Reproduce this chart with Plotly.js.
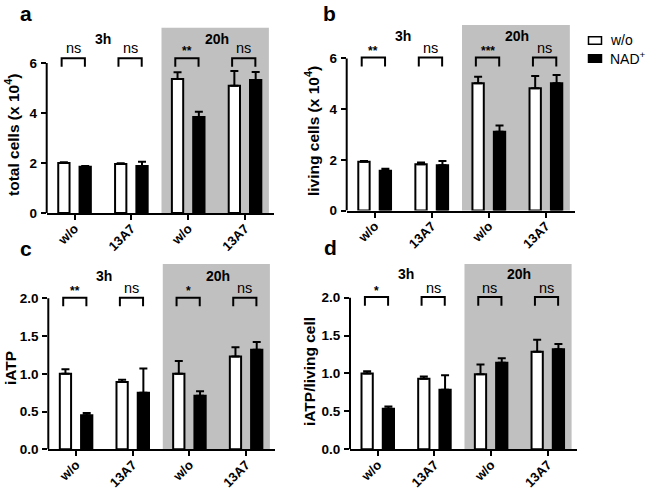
<!DOCTYPE html>
<html>
<head>
<meta charset="utf-8">
<script src="https://cdn.plot.ly/plotly-3.0.1.min.js"></script>
<style>html,body{margin:0;padding:0;background:#fff;}#chart{width:649px;height:489px;}</style>
</head>
<body>
<div id="chart"></div>
<script>
// ---------- data ----------
const categories = ['w/o', '13A7', 'w/o', '13A7'];
const timeGroups = ['3h', '20h'];
const seriesNames = ['w/o', 'NAD<sup>+</sup>'];

const totalWo = [2.00, 1.96, 5.36, 5.09];
const totalWoErr = [0.03, 0.03, 0.27, 0.59];
const totalNad = [1.85, 1.88, 3.84, 5.32];
const totalNadErr = [0.03, 0.17, 0.21, 0.32];
const totalSig = ['ns', 'ns', '**', 'ns'];

const livingWo = [1.92, 1.83, 5.02, 4.82];
const livingWoErr = [0.03, 0.06, 0.26, 0.49];
const livingNad = [1.57, 1.79, 3.11, 5.02];
const livingNadErr = [0.08, 0.16, 0.24, 0.33];
const livingSig = ['**', 'ns', '***', 'ns'];

const iatpWo = [1.00, 0.89, 1.00, 1.23];
const iatpWoErr = [0.06, 0.03, 0.17, 0.12];
const iatpNad = [0.45, 0.75, 0.71, 1.32];
const iatpNadErr = [0.03, 0.32, 0.06, 0.10];
const iatpSig = ['**', 'ns', '*', 'ns'];

const perCellWo = [1.00, 0.93, 0.99, 1.285];
const perCellWoErr = [0.03, 0.03, 0.13, 0.16];
const perCellNad = [0.534, 0.786, 1.14, 1.32];
const perCellNadErr = [0.03, 0.19, 0.06, 0.07];
const perCellSig = ['*', 'ns', 'ns', 'ns'];

const ticksCells = [0, 2, 4, 6];
const ticksAtp = [0, 0.5, 1.0, 1.5, 2.0];

// ---------- panel layout config ----------
const W = 649, H = 489;
const FONT = 'Liberation Sans, Arial, sans-serif';
const GRAY = '#c0c0c0';

const panels = [
  {letter: 'a', title: 'total cells (x 10<sup>4</sup>)', wo: totalWo, woErr: totalWoErr, nad: totalNad, nadErr: totalNadErr, sig: totalSig, ticks: ticksCells, fmt: 'd',
   px: [46.7, 274], py: [27.7, 213], yTop: 7.41, bracketTop: 6.19, bracketLeg: 0.34, sigY: 6.6, groupY: 6.95,
   titleX: 12, titleY: 135, letterX: 19, letterY: 13},
  {letter: 'b', title: 'living cells (x 10<sup>4</sup>)', wo: livingWo, woErr: livingWoErr, nad: livingNad, nadErr: livingNadErr, sig: livingSig, ticks: ticksCells, fmt: 'd',
   px: [346.7, 575], py: [25, 210.5], yTop: 7.32, bracketTop: 6.04, bracketLeg: 0.36, sigY: 6.42, groupY: 6.87,
   titleX: 312, titleY: 131, letterX: 322, letterY: 13},
  {letter: 'c', title: 'iATP', wo: iatpWo, woErr: iatpWoErr, nad: iatpNad, nadErr: iatpNadErr, sig: iatpSig, ticks: ticksAtp, fmt: '.1f',
   px: [48.3, 275], py: [264, 449.3], yTop: 2.454, bracketTop: 2.008, bracketLeg: 0.115, sigY: 2.13, groupY: 2.29,
   titleX: 10, titleY: 368, letterX: 19, letterY: 249},
  {letter: 'd', title: 'iATP/living cell', wo: perCellWo, woErr: perCellWoErr, nad: perCellNad, nadErr: perCellNadErr, sig: perCellSig, ticks: ticksAtp, fmt: '.1f',
   px: [350, 576.7], py: [264, 449.3], yTop: 2.444, bracketTop: 2.008, bracketLeg: 0.115, sigY: 2.13, groupY: 2.31,
   titleX: 309, titleY: 372, letterX: 323, letterY: 247}
];

const xRange = [-0.49, 3.51];
const grayRange = [1.53, 3.42];
const barOffset = 0.187;

const traces = [];
const shapes = [];
const annotations = [];
const layout = {
  width: W, height: H,
  margin: {l: 0, r: 0, t: 0, b: 0},
  paper_bgcolor: '#ffffff',
  plot_bgcolor: 'rgba(0,0,0,0)',
  barmode: 'group',
  bargap: 0.25,
  bargroupgap: 0.47,
  showlegend: false,
  font: {family: FONT, color: '#000'}
};

const xIdx = categories.map((c, i) => i);

panels.forEach((p, k) => {
  const n = k + 1;
  const xa = 'x' + (n === 1 ? '' : n);
  const ya = 'y' + (n === 1 ? '' : n);
  const xKey = 'xaxis' + (n === 1 ? '' : n);
  const yKey = 'yaxis' + (n === 1 ? '' : n);

  layout[xKey] = {
    domain: [p.px[0] / W, p.px[1] / W],
    anchor: ya,
    range: xRange,
    tickmode: 'array', tickvals: xIdx, ticktext: categories,
    tickangle: -45,
    tickfont: {family: FONT, size: 13, weight: 'bold', color: '#000'},
    showline: true, linecolor: '#000', linewidth: 2,
    ticks: 'outside', ticklen: 5, tickwidth: 2, tickcolor: '#000',
    ticklabelstandoff: -4,
    showgrid: false, zeroline: false, fixedrange: true
  };
  layout[yKey] = {
    domain: [1 - p.py[1] / H, 1 - p.py[0] / H],
    anchor: xa,
    range: [0, p.yTop],
    tickmode: 'array', tickvals: p.ticks, tickformat: p.fmt,
    tickfont: {family: FONT, size: 13.5, weight: 'bold', color: '#000'},
    showline: false,
    ticks: 'outside', ticklen: 5, tickwidth: 2, tickcolor: '#000',
    ticklabelstandoff: 1,
    showgrid: false, zeroline: false, fixedrange: true
  };

  // shaded 20h region
  shapes.push({type: 'rect', layer: 'below', xref: xa, yref: ya + ' domain',
    x0: grayRange[0], x1: grayRange[1], y0: 0, y1: 1, fillcolor: GRAY, line: {width: 0}});
  // y axis line from 0 to last tick
  shapes.push({type: 'line', xref: xa + ' domain', yref: ya, x0: 0, x1: 0,
    y0: 0, y1: p.ticks[p.ticks.length - 1], line: {color: '#000', width: 2}});

  traces.push({
    type: 'bar', name: seriesNames[0], x: xIdx, y: p.wo, xaxis: xa, yaxis: ya,
    marker: {color: '#ffffff', line: {color: '#000', width: 2}},
    error_y: {type: 'data', symmetric: false, array: p.woErr, arrayminus: p.woErr.map(() => 0),
      color: '#000', thickness: 2, width: 4},
    hoverinfo: 'skip'
  });
  traces.push({
    type: 'bar', name: seriesNames[1], x: xIdx, y: p.nad, xaxis: xa, yaxis: ya,
    marker: {color: '#000000', line: {color: '#000', width: 2}},
    error_y: {type: 'data', symmetric: false, array: p.nadErr, arrayminus: p.nadErr.map(() => 0),
      color: '#000', thickness: 2, width: 4},
    hoverinfo: 'skip'
  });

  // significance brackets + labels
  p.sig.forEach((s, i) => {
    const xl = i - barOffset - 0.04, xr = i + barOffset - 0.005;
    const yt = p.bracketTop, yb = p.bracketTop - p.bracketLeg;
    shapes.push({type: 'path', xref: xa, yref: ya,
      path: `M ${xl} ${yb} L ${xl} ${yt} L ${xr} ${yt} L ${xr} ${yb}`,
      line: {color: '#000', width: 2}});
    const star = s.indexOf('*') >= 0;
    annotations.push({xref: xa, yref: ya, x: (xl + xr) / 2, y: p.sigY, text: s, showarrow: false,
      yanchor: 'middle', yshift: star ? -3 : 0,
      font: {family: FONT, size: star ? 12 : 14.5, weight: star ? 'bold' : 'normal', color: '#000'}});
  });

  // time group labels
  timeGroups.forEach((g, j) => {
    annotations.push({xref: xa, yref: ya, x: 2 * j + 0.5, y: p.groupY, text: g, showarrow: false,
      yanchor: 'middle', font: {family: FONT, size: 14, weight: 'bold', color: '#000'}});
  });

  // y title
  annotations.push({xref: 'paper', yref: 'paper', x: p.titleX / W, y: 1 - p.titleY / H, text: p.title,
    textangle: -90, showarrow: false, xanchor: 'center', yanchor: 'middle',
    font: {family: FONT, size: 15.5, weight: 'bold', color: '#000'}});

  // panel letter
  annotations.push({xref: 'paper', yref: 'paper', x: p.letterX / W, y: 1 - p.letterY / H, text: p.letter,
    showarrow: false, xanchor: 'left', yanchor: 'middle', borderpad: 0,
    font: {family: FONT, size: 21, weight: 'bold', color: '#000'}});
});

// legend (drawn manually)
const legendBoxes = [{fill: '#ffffff', y: 40.5}, {fill: '#000000', y: 58.5}];
legendBoxes.forEach((b, i) => {
  shapes.push({type: 'rect', xref: 'paper', yref: 'paper',
    x0: 588.5 / W, x1: 601.5 / W, y0: 1 - (b.y + 3.8) / H, y1: 1 - (b.y - 3.8) / H,
    fillcolor: b.fill, line: {color: '#000', width: 1.5}});
  annotations.push({xref: 'paper', yref: 'paper', x: 608 / W, y: 1 - b.y / H, text: seriesNames[i],
    showarrow: false, xanchor: 'left', yanchor: 'middle',
    font: {family: FONT, size: 14, color: '#000'}});
});

layout.shapes = shapes;
layout.annotations = annotations;

Plotly.newPlot('chart', traces, layout, {displayModeBar: false, staticPlot: true});
</script>
</body>
</html>
